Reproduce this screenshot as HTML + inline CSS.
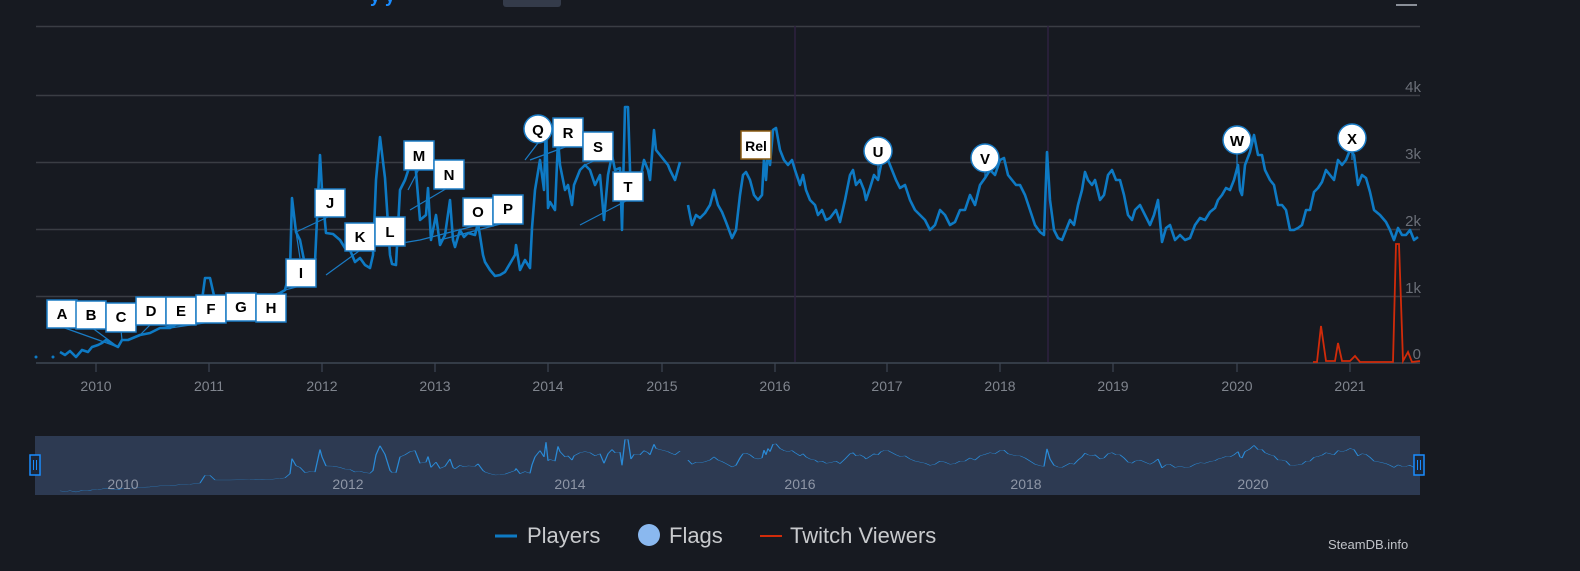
<!DOCTYPE html>
<html><head><meta charset="utf-8"><style>
html,body{margin:0;padding:0;background:#171a21;}
svg{display:block;font-family:"Liberation Sans",sans-serif;}
</style></head><body>
<svg width="1580" height="571" viewBox="0 0 1580 571" xmlns="http://www.w3.org/2000/svg">
<rect width="1580" height="571" fill="#171a21"/>
<!-- top remnants -->
<rect x="503" y="-6" width="58" height="13" rx="3" fill="#343b4a"/>
<text x="370" y="2" fill="#1a8cff" font-size="18" font-weight="bold">y  y</text>
<rect x="1396" y="4" width="21" height="2" fill="#8a8f98"/>
<!-- grid -->
<g stroke="#3a3d44" stroke-width="1.5">
<line x1="36" y1="26.5" x2="1420" y2="26.5"/>
<line x1="36" y1="95.5" x2="1420" y2="95.5"/>
<line x1="36" y1="162.5" x2="1420" y2="162.5"/>
<line x1="36" y1="229.5" x2="1420" y2="229.5"/>
<line x1="36" y1="296.5" x2="1420" y2="296.5"/>
</g>
<line x1="36" y1="363" x2="1420" y2="363" stroke="#3f4754" stroke-width="1.5"/>
<g stroke="#3f4754" stroke-width="1.2">
<line x1="96" y1="363" x2="96" y2="372"/><line x1="209" y1="363" x2="209" y2="372"/><line x1="322" y1="363" x2="322" y2="372"/><line x1="435" y1="363" x2="435" y2="372"/><line x1="548" y1="363" x2="548" y2="372"/><line x1="662" y1="363" x2="662" y2="372"/><line x1="775" y1="363" x2="775" y2="372"/><line x1="887" y1="363" x2="887" y2="372"/><line x1="1000" y1="363" x2="1000" y2="372"/><line x1="1113" y1="363" x2="1113" y2="372"/><line x1="1237" y1="363" x2="1237" y2="372"/><line x1="1350" y1="363" x2="1350" y2="372"/>
</g>
<line x1="795" y1="26" x2="795" y2="362" stroke="#2e2140" stroke-width="1.5"/>
<line x1="1048" y1="26" x2="1048" y2="362" stroke="#2e2140" stroke-width="1.5"/>
<!-- y labels -->
<g fill="#6b6f78" font-size="15" text-anchor="end">
<text x="1421" y="92">4k</text><text x="1421" y="159">3k</text><text x="1421" y="226">2k</text><text x="1421" y="293">1k</text><text x="1421" y="359">0</text>
</g>
<g fill="#80858e" font-size="14" text-anchor="middle">
<text x="96" y="391">2010</text><text x="209" y="391">2011</text><text x="322" y="391">2012</text><text x="435" y="391">2013</text><text x="548" y="391">2014</text><text x="662" y="391">2015</text><text x="775" y="391">2016</text><text x="887" y="391">2017</text><text x="1000" y="391">2018</text><text x="1113" y="391">2019</text><text x="1237" y="391">2020</text><text x="1350" y="391">2021</text>
</g>
<defs>
<g id="players">
<polyline fill="none" points="60,352 65,355 70,351 76,357 82,350 88,352 92,347 98,345 102,343 106,340 110,343 118,347 122,340 128,340 140,335 150,333 156,330 160,328 170,328 175,325 180,322 190,320 200,315 205,278 210,278 215,300 230,300 250,298 262,296 270,297 280,293 285,290 290,270 292,198 296,232 300,240 305,265 310,260 315,262 320,155 322,190 326,233 333,234 340,240 345,248 350,250 355,262 360,258 365,265 370,268 373,255 376,180 380,137 385,178 390,255 392,264 396,265 400,190 405,180 410,165 415,160 420,220 426,215 428,188 431,240 436,215 440,245 445,235 450,200 453,240 455,247 460,230 464,237 468,233 475,235 478,223 483,255 485,262 490,270 495,276 500,275 505,272 515,255 516,245 520,270 525,260 530,268 532,228 535,190 540,160 544,190 546,120 548,208 550,202 555,210 558,140 560,165 565,190 568,185 572,205 574,185 580,170 585,165 590,170 595,185 600,175 604,220 608,175 612,155 615,170 620,168 622,230 625,107 628,107 631,200 634,178 640,180 644,160 648,170 650,180 654,130 656,150 660,155 664,160 668,165 670,170 675,180 680,162"/>
<polyline fill="none" points="688,205 692,225 696,215 700,218 705,213 710,205 714,190 718,205 722,212 726,222 732,238 736,230 740,195 743,175 746,172 750,180 754,195 758,200 762,195 764,158 766,180 768,150 770,165 773,130 776,128 780,150 784,160 788,165 792,160 795,170 800,185 803,175 806,190 810,200 815,205 818,215 822,210 826,220 830,218 836,210 840,222 845,200 850,175 853,170 856,185 860,180 864,190 866,200 870,188 874,175 878,180 881,165 884,160 888,160 892,170 896,180 900,188 905,185 910,200 915,210 920,215 925,220 930,230 935,225 940,210 945,215 950,225 955,222 960,210 965,210 970,195 975,205 980,185 985,178 990,170 995,175 1000,160 1004,158 1008,175 1012,180 1016,185 1020,185 1025,195 1030,210 1035,225 1040,232 1044,235 1047,152 1050,200 1054,230 1058,238 1062,240 1066,230 1070,220 1074,225 1078,205 1082,190 1085,172 1088,180 1092,185 1095,180 1100,200 1104,195 1108,175 1112,170 1116,180 1120,180 1124,195 1128,215 1132,220 1135,210 1140,205 1145,215 1150,225 1154,215 1158,200 1162,242 1166,228 1170,225 1175,240 1180,235 1185,240 1190,238 1195,225 1200,218 1205,220 1210,212 1215,208 1218,200 1222,195 1226,188 1230,190 1234,180 1238,165 1240,190 1242,195 1245,165 1250,152 1254,135 1258,155 1262,155 1265,170 1270,180 1274,185 1278,205 1282,205 1286,210 1290,230 1294,230 1298,228 1302,225 1306,210 1310,210 1314,192 1318,188 1322,182 1326,170 1330,175 1334,180 1338,160 1342,165 1346,160 1350,150 1354,155 1358,185 1362,175 1366,178 1370,192 1374,210 1380,215 1386,222 1390,230 1394,240 1398,228 1402,235 1406,235 1410,230 1414,240 1418,237"/>
</g>
</defs>
<!-- flag connector lines -->
<g stroke="#1a7bc4" stroke-width="1.2" fill="none">
<path d="M62,327 L118,347 M91,327 L118,347 M121,330 L122,340 M151,324 L140,335 M181,324 L160,328 M211,322 L170,328 M241,319 L180,322 M271,321 L200,315 M300,286 L285,290 M300,258 L296,232 M330,216 L296,232 M359,251 L326,275 M390,245 L420,240 M419,169 L408,190 M449,187 L410,210 M478,225 L420,240 M508,222 L440,240 M538,143 L525,160 M568,146 L530,160 M598,159 L585,165 M628,200 L580,225 M878,165 L878,180 M985,172 L985,178 M1237,154 L1237,170 M1352,152 L1352,160"/>
</g>
<g stroke="#0e7ac4" stroke-width="2.6" stroke-linejoin="round"><use href="#players"/></g>
<circle cx="36" cy="357" r="1.5" fill="#0e7ac4"/><circle cx="53" cy="357" r="1.5" fill="#0e7ac4"/>
<!-- twitch -->
<polyline fill="none" stroke="#d12b0a" stroke-width="1.8" points="1313,362 1317,362 1321,326 1326,361 1335,361 1338,343 1342,361 1350,361 1355,356 1360,362 1370,362 1380,362 1393,362 1396,244 1399,244 1403,361 1408,352 1412,362 1420,361"/>
<!-- flags -->
<g font-size="15" font-weight="bold" text-anchor="middle" fill="#000">
<g stroke="#1a7bc4" stroke-width="1.5" fill="#fff">
<rect x="47" y="300" width="30" height="28"/><rect x="76" y="301" width="30" height="28"/><rect x="106" y="303" width="30" height="29"/><rect x="136" y="297" width="30" height="28"/><rect x="166" y="297" width="30" height="28"/><rect x="196" y="295" width="30" height="28"/><rect x="226" y="293" width="30" height="28"/><rect x="256" y="294" width="30" height="28"/><rect x="286" y="259" width="30" height="28"/><rect x="315" y="189" width="30" height="28"/><rect x="345" y="223" width="30" height="28"/><rect x="375" y="217" width="30" height="29"/><rect x="404" y="141" width="30" height="29"/><rect x="434" y="160" width="30" height="29"/><rect x="463" y="198" width="30" height="28"/><rect x="493" y="195" width="30" height="29"/><rect x="553" y="118" width="30" height="29"/><rect x="583" y="132" width="30" height="29"/><rect x="613" y="172" width="30" height="29"/>
<circle cx="538" cy="129" r="14"/><circle cx="878" cy="151" r="14"/><circle cx="985" cy="158" r="14"/><circle cx="1237" cy="140" r="14"/><circle cx="1352" cy="138" r="14"/>
</g>
<rect x="741" y="131" width="30" height="28" fill="#fff" stroke="#8a5a10" stroke-width="1.5"/>
<text x="62" y="319">A</text><text x="91" y="320">B</text><text x="121" y="322">C</text><text x="151" y="316">D</text><text x="181" y="316">E</text><text x="211" y="314">F</text><text x="241" y="312">G</text><text x="271" y="313">H</text><text x="301" y="278">I</text><text x="330" y="208">J</text><text x="360" y="242">K</text><text x="390" y="237">L</text><text x="419" y="161">M</text><text x="449" y="180">N</text><text x="478" y="217">O</text><text x="508" y="214">P</text><text x="538" y="135">Q</text><text x="568" y="138">R</text><text x="598" y="152">S</text><text x="628" y="192">T</text>
<text x="756" y="151" font-size="14">Rel</text>
<text x="878" y="157">U</text><text x="985" y="164">V</text><text x="1237" y="146">W</text><text x="1352" y="144">X</text>
</g>
<!-- navigator -->
<rect x="35" y="436" width="1385" height="59" fill="#2d3a52"/>
<g transform="translate(0,417) scale(1,0.21)" stroke="#2a8ad6" stroke-width="1.3" stroke-linejoin="round"><use href="#players" style="vector-effect:non-scaling-stroke"/></g>
<g fill="#8e96a6" font-size="14" text-anchor="middle">
<text x="123" y="489">2010</text><text x="348" y="489">2012</text><text x="570" y="489">2014</text><text x="800" y="489">2016</text><text x="1026" y="489">2018</text><text x="1253" y="489">2020</text>
</g>
<g stroke="#1a8cff" stroke-width="1.5" fill="#1b2536">
<rect x="30" y="455" width="10" height="20"/><rect x="1414" y="455" width="10" height="20"/>
</g>
<g stroke="#1a8cff" stroke-width="1"><line x1="33.5" y1="460" x2="33.5" y2="470"/><line x1="36.5" y1="460" x2="36.5" y2="470"/><line x1="1417.5" y1="460" x2="1417.5" y2="470"/><line x1="1420.5" y1="460" x2="1420.5" y2="470"/></g>
<!-- legend -->
<line x1="495" y1="536" x2="517" y2="536" stroke="#0e7ac4" stroke-width="3"/>
<text x="527" y="543" fill="#c8cacd" font-size="22">Players</text>
<circle cx="649" cy="535" r="11" fill="#8ab8ef"/>
<text x="669" y="543" fill="#c8cacd" font-size="22">Flags</text>
<line x1="760" y1="536" x2="782" y2="536" stroke="#d12b0a" stroke-width="2"/>
<text x="790" y="543" fill="#c8cacd" font-size="22">Twitch Viewers</text>
<text x="1328" y="549" fill="#c0c3c8" font-size="13">SteamDB.info</text>
</svg>
</body></html>
